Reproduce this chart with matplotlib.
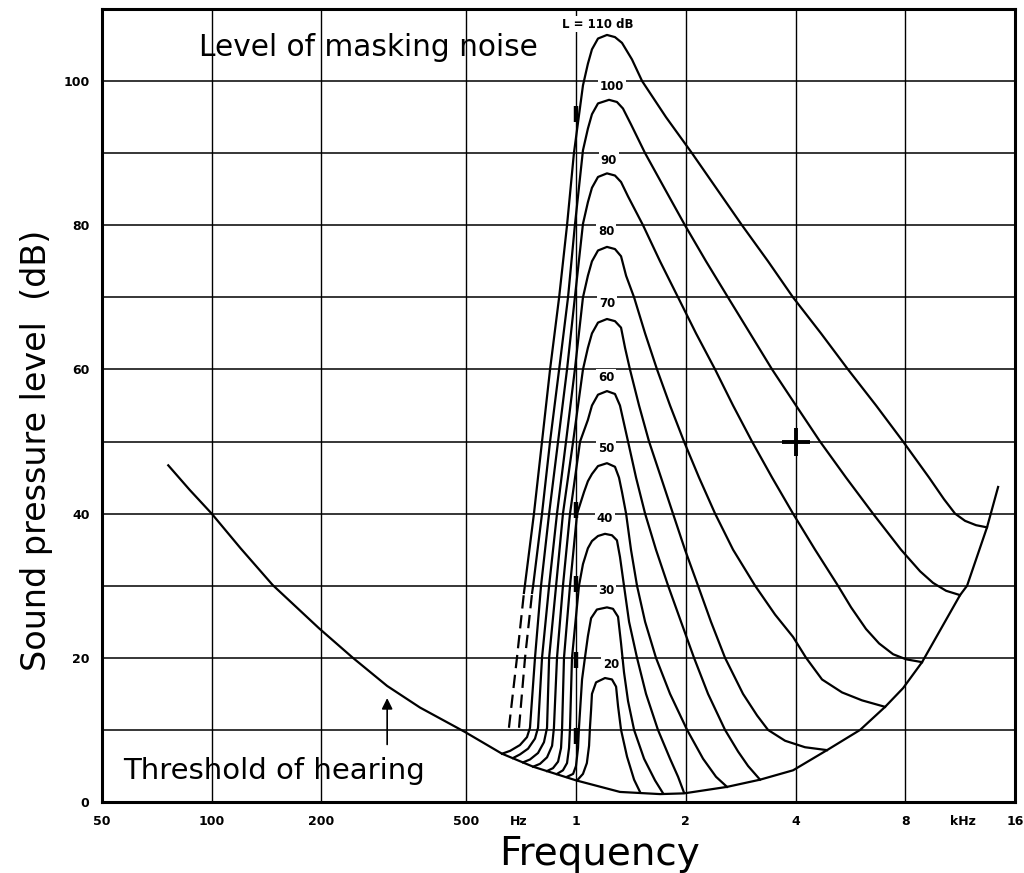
import matplotlib
matplotlib.use('Agg')
import matplotlib.pyplot as plt

# threshold of hearing (Hz, dB)
threshold = [(76, 46.7), (87, 43.3), (100, 40.0), (120, 35.2), (147, 30.1), (197, 24.1),
             (244, 20.0), (303, 16.1), (373, 13.1), (496, 9.7), (626, 6.7), (762, 4.9),
             (1000, 3.0), (1319, 1.4), (1699, 1.1), (1977, 1.2), (2594, 2.1), (3196, 3.1),
             (3937, 4.4), (4880, 7.2), (6013, 10.0), (7043, 13.2), (7890, 15.8), (8895, 19.4),
             (11307, 28.7), (11820, 30.0), (13408, 38.1), (14382, 43.7)]

# masked thresholds, one list per masker level L (Hz, dB)
curve_110_dashed = [(654, 10.3), (688, 20), (719, 29)]
curve_110 = [(719, 29), (766, 40), (806, 50), (848, 60), (898, 70), (944, 80), (986, 90),
             (1044, 99.4), (1077, 102.4), (1105, 104.4), (1148, 105.9), (1215, 106.4),
             (1278, 106.1), (1336, 105.3), (1423, 103), (1517, 100), (1764, 95), (2079, 90),
             (2435, 85), (2852, 80), (3362, 75), (3937, 70), (4698, 65), (5572, 60), (6653, 55),
             (7890, 50), (9299, 45), (10218, 42), (10959, 40), (11673, 39), (12510, 38.4),
             (13408, 38.1)]

curve_100_dashed = [(697, 10.3), (724, 20), (757, 29)]
curve_100 = [(757, 29), (762, 30), (806, 40), (848, 50), (898, 60), (950, 70), (992, 80),
             (1044, 90.4), (1077, 93.4), (1105, 95.4), (1148, 96.9), (1231, 97.4), (1294, 97.1),
             (1344, 96.2), (1414, 94), (1546, 90), (1753, 85), (1989, 80), (2272, 75),
             (2610, 70), (3001, 65), (3449, 60), (4011, 55), (4669, 50), (5503, 45), (6525, 40),
             (7787, 35), (8786, 32), (9533, 30.4), (10354, 29.3), (11307, 28.7)]

curve_90 = [(626, 6.7), (659, 7.1), (701, 7.9), (733, 9.0), (747, 10.3), (771, 20), (801, 30),
            (843, 40), (892, 50), (944, 60), (992, 70), (1044, 80.2), (1077, 83.2), (1105, 85.2),
            (1148, 86.7), (1215, 87.2), (1278, 86.9), (1328, 86.0), (1388, 84), (1526, 80),
            (1699, 75), (1904, 70), (2133, 65), (2406, 60), (2695, 55), (3038, 50), (3449, 45),
            (3937, 40), (4525, 35), (5230, 30), (5681, 27), (6243, 24), (6779, 22), (7408, 20.5),
            (8038, 19.8), (8895, 19.4)]

curve_80 = [(671, 6.1), (701, 6.6), (738, 7.4), (771, 8.8), (786, 10.3), (806, 20), (843, 30),
            (886, 40), (938, 50), (992, 60), (1044, 70), (1077, 73), (1105, 75), (1148, 76.5),
            (1215, 77), (1278, 76.7), (1328, 75.7), (1371, 73), (1442, 70), (1546, 65),
            (1667, 60), (1810, 55), (1977, 50), (2174, 45), (2406, 40), (2695, 35), (3098, 30),
            (3514, 26), (3937, 22.9), (4275, 20), (4728, 17), (5367, 15.2), (6089, 14.1),
            (7043, 13.2)]

curve_70 = [(715, 5.5), (747, 5.9), (786, 6.8), (816, 8.3), (832, 10.3), (843, 20), (881, 30),
            (920, 40), (981, 50), (1044, 60), (1077, 63), (1105, 65), (1148, 66.5), (1215, 67),
            (1278, 66.7), (1328, 65.8), (1362, 63), (1405, 60), (1488, 55), (1585, 50),
            (1710, 45), (1844, 40), (1989, 35), (2160, 30), (2344, 25), (2562, 20), (2870, 15),
            (3137, 12), (3362, 10), (3743, 8.5), (4246, 7.6), (4880, 7.2)]

curve_60 = [(762, 4.9), (796, 5.3), (832, 6.2), (859, 7.8), (869, 10.3), (886, 20), (920, 30),
            (962, 40), (1025, 50), (1077, 53), (1105, 55), (1148, 56.5), (1215, 57), (1278, 56.6),
            (1319, 55), (1388, 50), (1460, 45), (1546, 40), (1656, 35), (1788, 30), (1940, 25),
            (2106, 20), (2301, 15), (2562, 10), (2782, 7), (2963, 5), (3196, 3.1)]

curve_50 = [(832, 4.3), (864, 4.7), (892, 5.6), (909, 7.5), (915, 10.3), (926, 20), (962, 30),
            (1006, 40), (1051, 43), (1077, 44.5), (1105, 45.5), (1148, 46.6), (1215, 47),
            (1278, 46.5), (1311, 45), (1336, 43), (1371, 40), (1414, 35), (1469, 30),
            (1546, 25), (1656, 20), (1810, 15), (2016, 10), (2230, 6), (2420, 3.5), (2594, 2.1)]

curve_40 = [(886, 3.9), (920, 4.4), (944, 5.4), (956, 7.5), (962, 10.3), (974, 20), (1018, 30),
            (1044, 33), (1077, 35.2), (1105, 36.2), (1148, 36.9), (1200, 37.2), (1254, 37),
            (1294, 36.3), (1319, 34), (1353, 30), (1397, 25), (1469, 20), (1555, 15),
            (1677, 10), (1810, 6), (1904, 3.5), (1977, 1.3)]

curve_30 = [(944, 3.5), (981, 3.9), (999, 5), (1012, 7.5), (1018, 10.3), (1038, 17), (1057, 20),
            (1077, 23), (1099, 25.5), (1140, 26.7), (1215, 27), (1262, 26.8), (1303, 25.7),
            (1328, 22), (1353, 18), (1388, 14), (1442, 10), (1536, 6), (1646, 3), (1732, 1.2)]

curve_20 = [(1006, 3.0), (1044, 3.9), (1070, 5.4), (1085, 7.8), (1091, 10.3), (1099, 12.8),
            (1105, 15), (1134, 16.6), (1200, 17.2), (1254, 17), (1287, 16), (1303, 13.3),
            (1328, 10), (1379, 6.3), (1442, 3.1), (1497, 1.4)]

solid_curves = [curve_110, curve_100, curve_90, curve_80, curve_70,
                curve_60, curve_50, curve_40, curve_30, curve_20]
dashed_curves = [curve_110_dashed, curve_100_dashed]

# level labels (text, Hz, dB)
level_labels = [('L = 110 dB', 1148, 107.9), ('100', 1254, 99.2), ('90', 1231, 89.0),
                ('80', 1208, 79.1), ('70', 1215, 69.2), ('60', 1208, 58.9), ('50', 1208, 49.1),
                ('40', 1200, 39.3), ('30', 1208, 29.3), ('20', 1246, 19.1)]

# dark marks on the 1 kHz line
mark_db = [95.5, 40.5, 30.2, 19.7, 9.1]

x_ticks = [50, 100, 200, 500, 697, 1000, 2000, 4000, 8000, 11500, 16000]
x_tick_labels = ['50', '100', '200', '500', 'Hz', '1', '2', '4', '8', 'kHz', '16']
y_ticks = [0, 20, 40, 60, 80, 100]
grid_x = [100, 200, 500, 1000, 2000, 4000, 8000]
grid_y = [10, 20, 30, 40, 50, 60, 70, 80, 90, 100]

fig = plt.figure(figsize=(10.24, 8.73), dpi=100)
ax = fig.add_axes([0.0996, 0.0813, 0.8916, 0.9084])
ax.set_xscale('log')
ax.set_xlim(50, 16000)
ax.set_ylim(0, 110)

# grid
for gx in grid_x:
    ax.axvline(gx, color='black', lw=1.0, zorder=1)
for gy in grid_y:
    ax.axhline(gy, color='black', lw=1.1, zorder=1)

# curves
ax.plot([p[0] for p in threshold], [p[1] for p in threshold], color='black', lw=1.6, zorder=3)
for c in solid_curves:
    ax.plot([p[0] for p in c], [p[1] for p in c], color='black', lw=1.6, zorder=3)
for c in dashed_curves:
    ax.plot([p[0] for p in c], [p[1] for p in c], color='black', lw=1.6,
            linestyle=(0, (6, 3)), zorder=3)

ax.plot([1000] * len(mark_db), mark_db, linestyle='none', marker='|', markersize=11,
        mew=3.2, color='black', zorder=3)

for txt, fx, fy in level_labels:
    ax.text(fx, fy, txt, ha='center', va='center', fontsize=8.5, fontweight='bold',
            zorder=4, bbox=dict(facecolor='white', edgecolor='none', pad=1.0))

ax.text(92, 104.6, 'Level of masking noise', fontsize=21.3, va='center', ha='left', zorder=4)
ax.text(57, 4.3, 'Threshold of hearing', fontsize=21, va='center', ha='left', zorder=4)
ax.annotate('', xy=(303, 14.8), xytext=(303, 7.6),
            arrowprops=dict(arrowstyle='-|>', color='black', lw=1.2, mutation_scale=16),
            zorder=4)

# registration cross
ax.plot([4000], [50], marker='+', markersize=20, mew=2.8, color='black', zorder=4)

ax.set_xticks(x_ticks)
ax.set_xticklabels(x_tick_labels, fontsize=9, fontweight='bold')
ax.minorticks_off()
ax.set_yticks(y_ticks)
ax.set_yticklabels([str(v) for v in y_ticks], fontsize=9, fontweight='bold')
ax.tick_params(axis='both', length=0, pad=9)

for s in ax.spines.values():
    s.set_linewidth(2.2)

ax.set_xlabel('Frequency', fontsize=28, labelpad=4)
ax.xaxis.set_label_coords(0.545, -0.042)
ax.set_ylabel('Sound pressure level  (dB)', fontsize=24)
ax.yaxis.set_label_coords(-0.054, 0.443)

plt.savefig('out.png', dpi=100)
